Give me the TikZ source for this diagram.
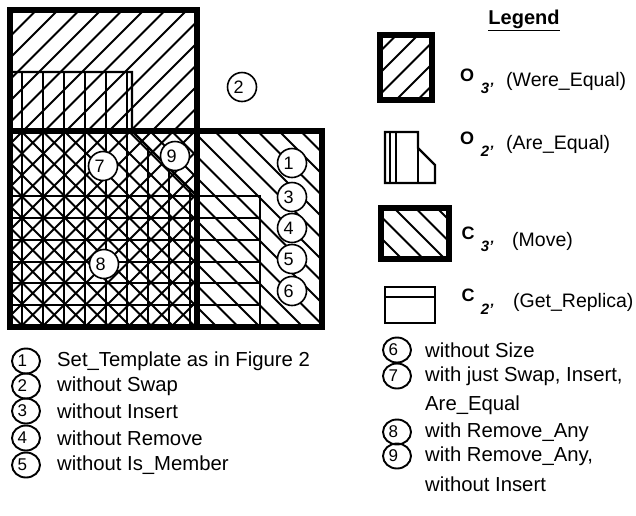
\documentclass[tikz,border=0pt]{standalone}
\usepackage{fontspec}
\setmainfont{Liberation Sans}
\usetikzlibrary{shapes.geometric}

\begin{document}
\begin{tikzpicture}[
        x=1pt, y=-1pt,
        thickline/.style={line width=6pt},
        thinline/.style={line width=2.4pt},
        hatch/.style={line width=1.8pt},
        num/.style={circle, draw, fill=white, line width=1.6pt, minimum size=29pt,
            inner sep=0pt, text width=17pt, align=left, font=\fontsize{18}{18}\selectfont},
        keynum/.style={ellipse, draw, line width=1.9pt, minimum width=28pt, minimum height=25pt,
            inner sep=0pt, text width=17pt, align=left, font=\fontsize{17}{17}\selectfont},
        item/.style={anchor=west, inner sep=0pt, font=\fontsize{20.3}{22}\selectfont},
        keyitem/.style={anchor=west, inner sep=0pt, font=\fontsize{19.5}{21}\selectfont},
        sym/.style={inner sep=0pt, font=\fontsize{18}{18}\selectfont\bfseries},
        sub/.style={inner sep=0pt, font=\fontsize{15}{15}\selectfont\bfseries\itshape}
    ]
        \useasboundingbox (0,0) rectangle (636,515);

        % O3 hatch (Were_Equal)
        \begin{scope}
            \clip (10,10) rectangle (197,327);
            \foreach \c in {3.5,25,...,540} \draw[hatch] (\c,0) -- ++(-340,340);
        \end{scope}
        % C3 hatch (Move)
        \begin{scope}
            \clip (10,131) rectangle (322,327);
            \foreach \c in {-325,-303.5,...,330} \draw[hatch] (\c,0) -- ++(340,340);
        \end{scope}
        % O2 hatch (Are_Equal)
        \begin{scope}
            \clip (10,72) -- (132,72) -- (132,131) -- (195,194) -- (195,327) -- (10,327) -- cycle;
            \foreach \k in {0,...,8} \draw[hatch] (22+21*\k,60) -- (22+21*\k,330);
        \end{scope}
        % C2 hatch (Get_Replica)
        \begin{scope}
            \clip (10,196) rectangle (260,327);
            \foreach \y in {218,240,262,283,305} \draw[hatch] (0,\y) -- (270,\y);
        \end{scope}

        % Outlines
        \draw[thinline] (10,72) -- (132,72) -- (132,131) -- (195,194);
        \draw[thinline] (10,196) -- (260,196) -- (260,327);
        \draw[thickline] (10,10) rectangle (197,327);
        \draw[thickline] (10,131) rectangle (322,327);

        % Numbered marks
        \node[num] (c2) at (242,87) {2};
        \node[num] (c1) at (292,163) {1};
        \node[num] (c3) at (292,197) {3};
        \node[num] (c4) at (292,228) {4};
        \node[num] (c5) at (292,259) {5};
        \node[num] (c6) at (292,291) {6};
        \node[num] (c7) at (103,166) {7};
        \node[num] (c9) at (175,156) {9};
        \node[num] (c8) at (104,264) {8};

        % Legend
        \node[inner sep=0pt, font=\fontsize{20}{21}\selectfont\bfseries] (title) at (524,20) {\underline{Legend}};

        \begin{scope}
            \clip (380,35) rectangle (432,100);
            \foreach \c in {380,401.5,...,540} \draw[hatch] (\c,30) -- ++(-75,75);
        \end{scope}
        \draw[thickline] (380,35) rectangle (432,100);
        \node[sym] (o3) at (467,75) {O};
        \node[sub] (o3s) at (487,88) {3'};
        \node[keyitem] (o3t) at (506,81) {(Were\_Equal)};

        \draw[thinline] (385,132) -- (418,132) -- (418,148) -- (435,165) -- (435,183) -- (385,183) -- cycle;
        \draw[hatch] (390,132) -- (390,183);
        \draw[hatch] (396,132) -- (396,183);
        \draw[hatch] (418,148) -- (418,183);
        \node[sym] (o2) at (467,138) {O};
        \node[sub] (o2s) at (487,151) {2'};
        \node[keyitem] (o2t) at (506,144) {(Are\_Equal)};

        \begin{scope}
            \clip (381,208) rectangle (449,259);
            \foreach \c in {300,321.5,...,460} \draw[hatch] (\c,200) -- ++(70,70);
        \end{scope}
        \draw[thickline] (381,208) rectangle (449,259);
        \node[sym] (c3l) at (468,233) {C};
        \node[sub] (c3s) at (487,246) {3'};
        \node[keyitem] (c3t) at (512,241) {(Move)};

        \draw[thinline] (385,287) rectangle (435,323);
        \draw[thinline] (385,297) -- (435,297);
        \node[sym] (c2l) at (468,295) {C};
        \node[sub] (c2s) at (487,309) {2'};
        \node[keyitem] (c2t) at (513,302) {(Get\_Replica)};

        % Key, left column
        \node[keynum] (k1) at (26,361) {1};
        \node[keynum] (k2) at (26,386) {2};
        \node[keynum] (k3) at (26,411) {3};
        \node[keynum] (k4) at (26,438) {4};
        \node[keynum] (k5) at (26,465) {5};
        \node[item] (t1) at (57,361) {Set\_Template as in Figure 2};
        \node[item] (t2) at (57,386) {without Swap};
        \node[item] (t3) at (57,411) {without Insert};
        \node[item] (t4) at (57,438) {without Remove};
        \node[item] (t5) at (57,465) {without Is\_Member};

        % Key, right column
        \node[keynum] (k6) at (397,350) {6};
        \node[keynum] (k7) at (397,376) {7};
        \node[keynum] (k8) at (397,432) {8};
        \node[keynum] (k9) at (397,456) {9};
        \node[item] (t6) at (425,350) {without Size};
        \node[item] (t7) at (425,376) {with just Swap, Insert,};
        \node[item] (t7b) at (425,405) {Are\_Equal};
        \node[item] (t8) at (425,432) {with Remove\_Any};
        \node[item] (t9) at (425,456) {with Remove\_Any,};
        \node[item] (t9b) at (425,484) {without Insert};
    \end{tikzpicture}
\end{document}
